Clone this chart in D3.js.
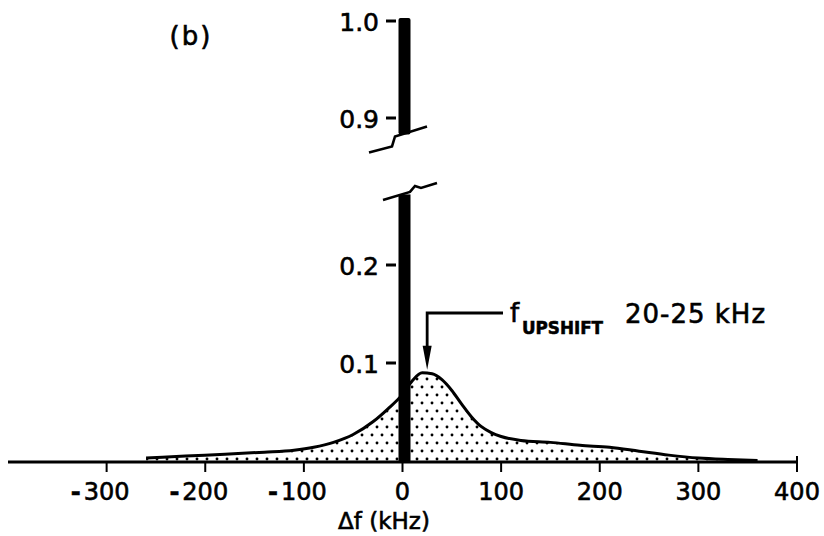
<!DOCTYPE html>
<html>
<head>
<meta charset="utf-8">
<script src="https://cdn.jsdelivr.net/npm/d3@7/dist/d3.min.js"></script>
<style>
  html, body { margin: 0; padding: 0; background: #fff; }
  svg { display: block; }
  text { font-family: "DejaVu Sans", sans-serif; fill: #000; stroke: #000; stroke-width: 0.6px; }
</style>
</head>
<body>
<svg id="chart" width="824" height="536"></svg>
<script>
// ---- data ----
const xTickValues = [-300, -200, -100, 0, 100, 200, 300, 400];
const xTickLabels = ["-300", "-200", "-100", "0", "100", "200", "300", "400"];
const yLowTicks = [0.1, 0.2];
const yLowLabels = ["0.1", "0.2"];
const yHighTicks = [0.9, 1.0];
const yHighLabels = ["0.9", "1.0"];

const spectrumDf = [-260, -220, -180, -140, -110, -90, -70, -50, -30, -15, 0, 10, 20, 30, 40, 50, 60, 70, 80, 90, 100, 120, 150, 180, 210, 240, 270, 300, 330, 360];
const spectrumValue = [0.003, 0.005, 0.007, 0.009, 0.011, 0.014, 0.019, 0.027, 0.040, 0.053, 0.068, 0.082, 0.090, 0.089, 0.083, 0.072, 0.058, 0.045, 0.035, 0.029, 0.025, 0.021, 0.019, 0.016, 0.014, 0.010, 0.006, 0.003, 0.0015, 0.0005];

const pumpDf = [0];
const pumpValue = [1.0];
const breakLow = 0.272;   // top of lower axis segment
const breakHigh = 0.883;  // bottom of upper axis segment

const upshiftDf = 25;
const panelLabel = "(b)";
const xTitle = "Δf (kHz)";
const annotMain = "f";
const annotSub = "UPSHIFT";
const annotRange = "20-25 kHz";

// ---- scales ----
const svg = d3.select("#chart");
const x = d3.scaleLinear().domain([-400, 400]).range([8, 797]);
const yLow = d3.scaleLinear().domain([0, 0.2]).range([461, 265]);
const yHigh = d3.scaleLinear().domain([0.9, 1.0]).range([118, 21]);

// stipple pattern
const defs = svg.append("defs");
const pat = defs.append("pattern").attr("id", "dots")
  .attr("patternUnits", "userSpaceOnUse").attr("width", 10).attr("height", 16);
pat.append("circle").attr("cx", 2).attr("cy", 3).attr("r", 1.45).attr("fill", "#000");
pat.append("circle").attr("cx", 7).attr("cy", 11).attr("r", 1.45).attr("fill", "#000");

const spec = spectrumDf.map((d, i) => ({ df: d, v: spectrumValue[i] }));

// area
const area = d3.area().x(d => x(d.df)).y0(yLow(0)).y1(d => yLow(d.v)).curve(d3.curveMonotoneX);
svg.append("path").datum(spec).attr("d", area).attr("fill", "url(#dots)");
const line = d3.line().x(d => x(d.df)).y(d => yLow(d.v)).curve(d3.curveMonotoneX);
svg.append("path").datum(spec).attr("d", line).attr("fill", "none")
  .attr("stroke", "#000").attr("stroke-width", 3).attr("stroke-linejoin", "round");

// pump bar (broken)
const barW = 12;
pumpDf.forEach((d, i) => {
  const cx = x(d) + 2;
  svg.append("rect").attr("x", cx - barW / 2).attr("width", barW)
    .attr("y", yLow(breakLow)).attr("height", yLow(0) - yLow(breakLow)).attr("fill", "#000");
  svg.append("rect").attr("x", cx - barW / 2).attr("width", barW)
    .attr("y", yHigh(pumpValue[i]) - 3).attr("height", yHigh(breakHigh) - yHigh(pumpValue[i]) + 3)
    .attr("fill", "#000").attr("rx", 2);
});

// break marks
const bx = x(0);
const byH = yHigh(breakHigh), byL = yLow(breakLow);
const rel = (pts, ox, oy) => pts.map(p => [ox + p[0], oy + p[1]]);
const bl = d3.line();
svg.append("path").attr("d", bl(rel([[-33.5, 18], [-10.5, 12], [-7.5, 2], [24.5, -8]], bx, byH)))
  .attr("fill", "none").attr("stroke", "#000").attr("stroke-width", 2.6);
svg.append("path").attr("d", bl(rel([[-19.5, 5.5], [7.5, -2.5], [12.5, -8.5], [18.5, -6.5], [34.5, -11.5]], bx, byL)))
  .attr("fill", "none").attr("stroke", "#000").attr("stroke-width", 2.6);

// x axis
const axisY = yLow(0) + 1;
svg.append("line").attr("x1", 8).attr("x2", x(400)).attr("y1", axisY).attr("y2", axisY)
  .attr("stroke", "#000").attr("stroke-width", 3.2);
const xg = svg.append("g");
xTickValues.forEach((v, i) => {
  const tx = x(v);
  xg.append("line").attr("x1", tx).attr("x2", tx).attr("y1", v === 400 ? axisY - 6 : axisY)
    .attr("y2", axisY + 10).attr("stroke", "#000").attr("stroke-width", 2);
  const lab = xTickLabels[i];
  const neg = lab.startsWith("-");
  xg.append("text").attr("x", tx).attr("y", 500).attr("text-anchor", "middle")
    .attr("font-size", 24).text(neg ? lab.slice(1) : lab)
    .each(function () {
      if (neg) {
        const w = this.getComputedTextLength();
        xg.append("text").attr("x", tx - w / 2 - 3).attr("y", 500).attr("text-anchor", "end")
          .attr("font-size", 24).attr("font-weight", "bold").text("-");
      }
    });
});

// y ticks
function yTick(yv, lab) {
  svg.append("line").attr("x1", 386).attr("x2", 396).attr("y1", yv).attr("y2", yv)
    .attr("stroke", "#000").attr("stroke-width", 3);
  svg.append("text").attr("x", 379).attr("y", yv).attr("dy", "0.38em")
    .attr("text-anchor", "end").attr("font-size", 25).text(lab);
}
yLowTicks.forEach((v, i) => yTick(yLow(v), yLowLabels[i]));
yHighTicks.forEach((v, i) => yTick(yHigh(v), yHighLabels[i]));

// annotation arrow
const ax = x(upshiftDf);
const peakV = d3.max(spectrumValue);
const tipY = yLow(peakV) - 3;
svg.append("path").attr("d", bl([[503, 313], [ax, 313], [ax, tipY - 14]]))
  .attr("fill", "none").attr("stroke", "#000").attr("stroke-width", 2.8);
svg.append("path").attr("d", bl([[ax - 4.5, tipY - 24], [ax + 4.5, tipY - 24], [ax, tipY]]) + "Z")
  .attr("fill", "#000");

svg.append("text").attr("x", 510).attr("y", 322).attr("font-size", 26).text(annotMain);
svg.append("text").attr("x", 522).attr("y", 334).attr("font-size", 18).attr("font-weight", "bold")
  .attr("textLength", 81).attr("lengthAdjust", "spacingAndGlyphs").text(annotSub);
svg.append("text").attr("x", 625).attr("y", 323).attr("font-size", 26)
  .attr("letter-spacing", 1).text(annotRange);

// panel label and x title
svg.append("text").attr("x", 191).attr("y", 45).attr("text-anchor", "middle")
  .attr("font-size", 26).attr("letter-spacing", 2).text(panelLabel);
svg.append("text").attr("x", 384).attr("y", 529).attr("text-anchor", "middle")
  .attr("font-size", 23).text(xTitle);
</script>
</body>
</html>
